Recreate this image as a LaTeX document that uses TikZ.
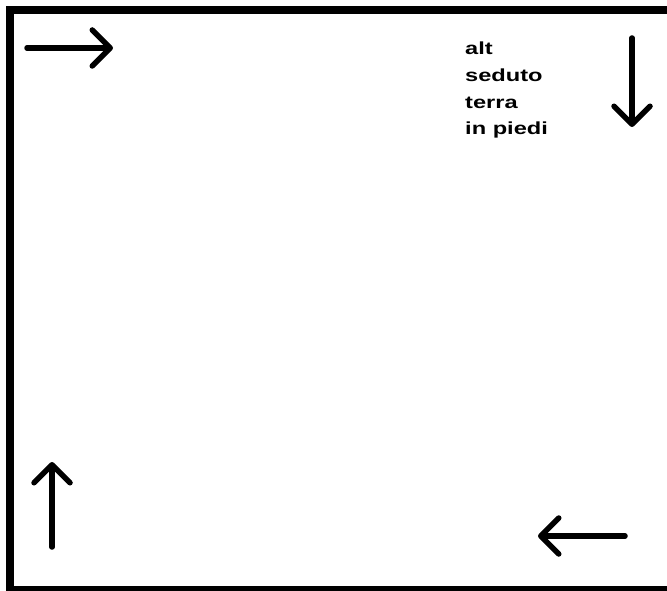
\documentclass[tikz,border=0pt]{standalone}
\usepackage{fontspec}
\usetikzlibrary{arrows.meta}
\newfontfamily\paintfont{Liberation Sans}[FakeStretch=1.35]
\tikzstyle{frame} = [line width=8pt, draw=black]
\tikzstyle{arrow} = [line width=5.5pt, line cap=round, -{Straight Barb[length=18pt, width=36pt, round]}]
\tikzstyle{label} = [anchor=north west, inner sep=0pt, align=left, font=\paintfont\bfseries\fontsize{17.5}{26.7}\selectfont]

\begin{document}
\begin{tikzpicture}[x=1pt, y=1pt]
        \useasboundingbox (0,0) rectangle (667,590);
        \fill[white] (0,0) rectangle (667,590);
        \draw [frame] (10,580) rectangle (672,0);

        % the four arrows round the frame
        \coordinate (tl_start) at (27,542);
        \coordinate (tl_end) at (113,542);
        \coordinate (tr_start) at (632,552);
        \coordinate (tr_end) at (632,463);
        \coordinate (br_start) at (625,54);
        \coordinate (br_end) at (538,54);
        \coordinate (bl_start) at (52,43);
        \coordinate (bl_end) at (52,128);

        \node (states) [label] at (465,548) {alt\\seduto\\terra\\in piedi};

        \draw [arrow] (tl_start) -- (tl_end);
        \draw [arrow] (tr_start) -- (tr_end);
        \draw [arrow] (br_start) -- (br_end);
        \draw [arrow] (bl_start) -- (bl_end);

    \end{tikzpicture}
\end{document}
